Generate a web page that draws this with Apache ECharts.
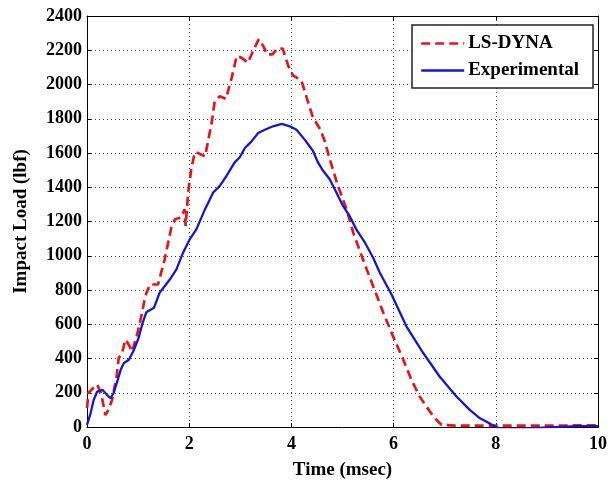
<!DOCTYPE html>
<html>
<head>
<meta charset="utf-8">
<script src="https://cdn.jsdelivr.net/npm/echarts@6/dist/echarts.min.js"></script>
<style>
  html, body { margin: 0; padding: 0; background: #ffffff; }
  #chart { width: 611px; height: 485px; }
</style>
</head>
<body>
<div id="chart"></div>
<script>
// Impact load history: simulation vs. test
const lsdynaTime = [0, 0.03, 0.13, 0.2, 0.28, 0.36, 0.42, 0.49, 0.58, 0.62, 0.68, 0.75, 0.82, 0.88, 0.97,
  1.07, 1.14, 1.23, 1.39, 1.52, 1.65, 1.72, 1.85, 1.91, 1.93, 1.98, 2.04, 2.11, 2.17, 2.31, 2.44, 2.5,
  2.6, 2.72, 2.83, 2.93, 3.02, 3.15, 3.25, 3.36, 3.45, 3.52, 3.63, 3.72, 3.83, 3.94, 4.03, 4.11, 4.2,
  4.3, 4.42, 4.56, 4.65, 4.75, 4.91, 5.08, 5.21, 5.4, 5.6, 5.8, 5.99, 6.19, 6.35, 6.51, 6.71, 6.84,
  6.94, 7.2, 8, 9, 10];
const lsdynaLoad = [110, 200, 230, 248, 190, 70, 100, 158, 293, 404, 422, 510, 480, 440, 527,
  656, 764, 832, 832, 979, 1164, 1213, 1224, 1272, 1174, 1370, 1506, 1605, 1600, 1580, 1776, 1903,
  1932, 1916, 2039, 2166, 2157, 2127, 2196, 2264, 2225, 2176, 2176, 2209, 2209, 2108, 2053, 2039, 2020,
  1922, 1809, 1740, 1672, 1565, 1408, 1272, 1135, 979, 822, 666, 529, 393, 275, 178, 90, 41,
  12, 8, 8, 8, 10];

const expTime = [0, 0.07, 0.13, 0.2, 0.3, 0.39, 0.46, 0.52, 0.59, 0.66, 0.72, 0.82, 0.92, 1.01, 1.08,
  1.16, 1.31, 1.42, 1.62, 1.75, 1.88, 2.01, 2.14, 2.31, 2.47, 2.6, 2.73, 2.89, 2.99, 3.09, 3.22, 3.35,
  3.48, 3.64, 3.81, 3.97, 4.1, 4.26, 4.42, 4.52, 4.62, 4.75, 4.88, 5.01, 5.14, 5.27, 5.44, 5.6, 5.73,
  5.96, 6.25, 6.58, 6.9, 7.23, 7.49, 7.69, 7.82, 8.01, 8.21, 8.6, 9.0, 9.6, 10];
const expLoad = [12, 80, 158, 207, 217, 188, 168, 197, 265, 334, 373, 393, 451, 520, 600,
  670, 696, 783, 861, 920, 1018, 1096, 1154, 1272, 1369, 1408, 1467, 1545, 1575, 1629, 1668, 1717,
  1736, 1756, 1770, 1756, 1736, 1678, 1613, 1545, 1496, 1447, 1369, 1291, 1232, 1154, 1076, 988, 901,
  774, 588, 432, 295, 178, 100, 51, 31, -2, -14, -8, -2, 5, 5];

const seriesNames = ['LS-DYNA', 'Experimental'];
const xTitle = 'Time (msec)';
const yTitle = 'Impact Load (lbf)';

const pairs = (xs, ys) => xs.map((x, i) => [x, ys[i]]);

const FONT = 'Liberation Serif';
const gridLine = { show: true, lineStyle: { color: '#444', width: 1, type: [1, 3] } };
const frameLine = { show: true, onZero: false, lineStyle: { color: '#000', width: 1 } };
const innerTick = { show: true, inside: true, length: 4, lineStyle: { color: '#000' } };
const plainNumber = v => String(v);

const chart = echarts.init(document.getElementById('chart'), null, { renderer: 'canvas' });
chart.setOption({
  backgroundColor: '#ffffff',
  animation: false,
  grid: { left: 87, right: 13, top: 16, bottom: 58, containLabel: false },
  legend: {
    data: seriesNames,
    orient: 'vertical',
    left: 412,
    top: 25,
    padding: [9, 14, 8, 8],
    itemGap: 8,
    itemWidth: 43,
    itemHeight: 20,
    // line-only keys: hide the marker drawn in the middle of each key
    itemStyle: { color: 'rgba(0,0,0,0)', borderColor: 'rgba(0,0,0,0)', borderWidth: 0 },
    lineStyle: { width: 2.4 },
    backgroundColor: '#ffffff',
    borderColor: '#222',
    borderWidth: 1.5,
    textStyle: { fontFamily: FONT, fontWeight: 'bold', fontSize: 19, color: '#000', padding: [0, 0, 0, -1] }
  },
  xAxis: [
    {
      type: 'value', min: 0, max: 10, interval: 2, position: 'bottom',
      name: xTitle, nameLocation: 'middle', nameGap: 34,
      nameTextStyle: { fontFamily: FONT, fontWeight: 'bold', fontSize: 19, color: '#000' },
      axisLine: frameLine, axisTick: innerTick, splitLine: gridLine,
      axisLabel: { fontFamily: FONT, fontWeight: 'bold', fontSize: 18, color: '#000', margin: 8, formatter: plainNumber }
    },
    {
      type: 'value', min: 0, max: 10, interval: 2, position: 'top',
      axisLine: frameLine, axisTick: innerTick, splitLine: { show: false }, axisLabel: { show: false }
    }
  ],
  yAxis: [
    {
      type: 'value', min: 0, max: 2400, interval: 200, position: 'left',
      name: yTitle, nameLocation: 'middle', nameGap: 56,
      nameTextStyle: { fontFamily: FONT, fontWeight: 'bold', fontSize: 19, color: '#000' },
      axisLine: frameLine, axisTick: innerTick, splitLine: gridLine,
      axisLabel: { fontFamily: FONT, fontWeight: 'bold', fontSize: 18, color: '#000', margin: 5, formatter: plainNumber }
    },
    {
      type: 'value', min: 0, max: 2400, interval: 200, position: 'right',
      axisLine: frameLine, axisTick: innerTick, splitLine: { show: false }, axisLabel: { show: false }
    }
  ],
  series: [
    {
      name: seriesNames[0], type: 'line', xAxisIndex: 0, yAxisIndex: 0,
      data: pairs(lsdynaTime, lsdynaLoad),
      showSymbol: false, symbol: 'none', z: 3,
      lineStyle: { color: '#e3161e', width: 2.7, type: [9, 5] },
      itemStyle: { color: '#e3161e' }
    },
    {
      name: seriesNames[1], type: 'line', xAxisIndex: 0, yAxisIndex: 0,
      data: pairs(expTime, expLoad),
      showSymbol: false, symbol: 'none', z: 4,
      lineStyle: { color: '#1616d0', width: 2.3, type: 'solid' },
      itemStyle: { color: '#1616d0' }
    }
  ]
});
</script>
</body>
</html>
